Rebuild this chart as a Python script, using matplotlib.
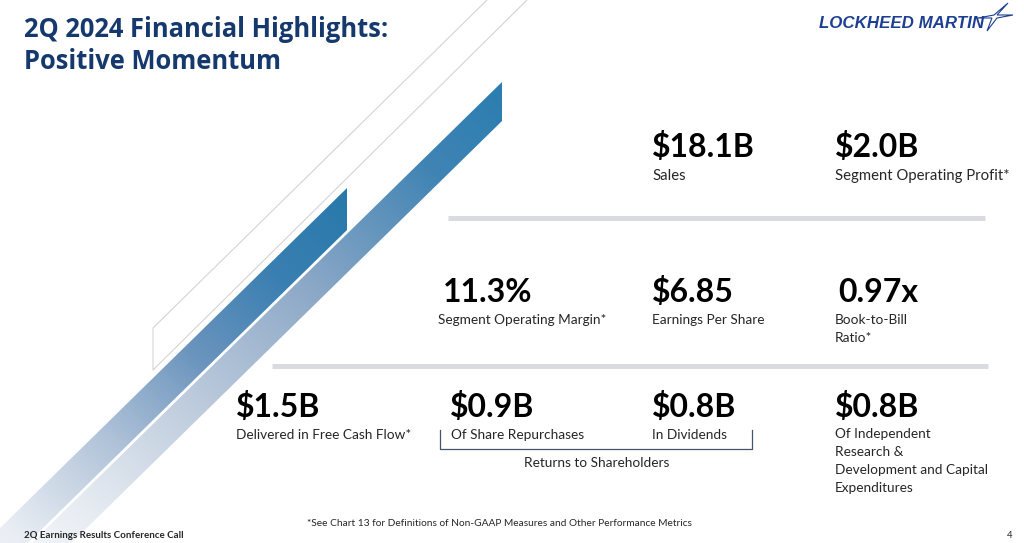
import numpy as np
import matplotlib
matplotlib.use("Agg")
import matplotlib.pyplot as plt
from matplotlib.patches import Polygon

# ---------------- data ----------------
title_lines = ["2Q 2024 Financial Highlights:", "Positive Momentum"]
metric_values = ["$18.1B", "$2.0B", "11.3%", "$6.85", "0.97x",
                 "$1.5B", "$0.9B", "$0.8B", "$0.8B"]
metric_labels = ["Sales", "Segment Operating Profit*", "Segment Operating Margin*",
                 "Earnings Per Share", "Book-to-Bill\nRatio*",
                 "Delivered in Free Cash Flow*", "Of Share Repurchases", "In Dividends",
                 "Of Independent\nResearch &\nDevelopment and Capital\nExpenditures"]
bracket_label = "Returns to Shareholders"
footnote = "*See Chart 13 for Definitions of Non-GAAP Measures and Other Performance Metrics"
footer_left = "2Q Earnings Results Conference Call"
page_number = "4"
logo_text = "LOCKHEED MARTIN"

# ---------------- layout (pixels) ----------------
W, H = 1024, 543
value_pos = [(652, 157), (835, 157), (443, 302), (652, 302), (838, 302),
             (236, 417), (450, 417), (652, 417), (835, 417)]
label_pos = [(652, 180), (835, 180), (438, 324), (652, 324), (835, 324),
             (236, 439), (451, 439), (652, 439), (835, 438)]
label_size = [10.7, 10.7, 9.8, 9.8, 9.8, 9.8, 9.8, 9.8, 9.8]
label_step = 18

fig = plt.figure(figsize=(W / 100, H / 100), dpi=100)
ax = fig.add_axes([0, 0, 1, 1])
ax.set_xlim(0, W)
ax.set_ylim(H, 0)
ax.axis("off")

# ---------------- decorative stripes ----------------
yy, xx = np.mgrid[0:H, 0:W] + 0.5
m = 0.98


def gradient_img(x0, y0, stops):
    s = ((x0 - xx) + (yy - y0) / m) / 2.0
    pos = [p for p, _ in stops]
    img = np.zeros((H, W, 3))
    for c in range(3):
        img[..., c] = np.interp(s, pos, [col[c] / 255 for _, col in stops])
    return img


def stripe(x0, ytop, ybot, stops, z):
    t = 900
    pts = [(x0, ytop), (x0, ybot), (x0 - t, ybot + t * m), (x0 - t, ytop + t * m)]
    poly = Polygon(pts, closed=True, facecolor="none", edgecolor="none", zorder=z)
    ax.add_patch(poly)
    im = ax.imshow(gradient_img(x0, ytop, stops), extent=(0, W, H, 0),
                   origin="upper", aspect="auto", zorder=z, interpolation="bilinear")
    im.set_clip_path(poly)


big_stops = [(0, (42, 125, 176)), (80, (64, 132, 180)), (200, (140, 168, 199)),
             (330, (194, 207, 223)), (430, (232, 237, 243)), (520, (255, 255, 255))]
small_stops = [(0, (40, 121, 171)), (80, (58, 127, 177)), (160, (106, 148, 189)),
               (250, (178, 196, 217)), (340, (232, 237, 243)), (420, (255, 255, 255))]
stripe(502, 82, 121, big_stops, 1)
stripe(347, 188, 230, small_stops, 2)

# thin outline
ax.plot([487, 153, 153, 527], [0, 328, 370, 0], color="#d4d4d4", lw=0.8, zorder=3)

ax.set_xlim(0, W)
ax.set_ylim(H, 0)

# ---------------- title ----------------
navy = "#15396d"
ax.text(24, 37, title_lines[0], fontsize=18.4, fontweight="bold", family="Open Sans",
        color=navy, va="baseline", ha="left", zorder=5)
ax.text(24, 69, title_lines[1], fontsize=18.4, fontweight="bold", family="Open Sans",
        color=navy, va="baseline", ha="left", zorder=5)

# ---------------- logo ----------------
logo_col = "#1d3f93"
ax.text(819, 28, logo_text, fontsize=12.2, fontweight="bold", style="italic",
        family="Liberation Sans", color=logo_col, va="baseline", ha="left", zorder=5)
star = [(1008, 3), (997, 15), (1013, 15), (997, 18), (987, 31), (992, 18),
        (978, 18), (994, 15)]
ax.add_patch(Polygon(star, closed=True, facecolor="white", edgecolor=logo_col,
                     lw=0.8, zorder=5))

# ---------------- separators ----------------
sep_col = "#d9dbe0"
ax.plot([448, 985], [218, 218], color=sep_col, lw=3.6, solid_capstyle="butt", zorder=4)
ax.plot([272, 988], [366, 366], color=sep_col, lw=3.6, solid_capstyle="butt", zorder=4)

# ---------------- metrics ----------------
for v, (x, y) in zip(metric_values, value_pos):
    ax.text(x, y, v, fontsize=23, fontweight="bold", family="Lato", color="black",
            va="baseline", ha="left", zorder=6)
for lab, (x, y), fs in zip(metric_labels, label_pos, label_size):
    for i, line in enumerate(lab.split("\n")):
        ax.text(x, y + i * label_step, line, fontsize=fs, family="Lato",
                color="#262626", va="baseline", ha="left", zorder=6)

# bracket
br_col = "#44546a"
ax.plot([440, 440, 752, 752], [430, 449, 449, 430], color=br_col, lw=0.9, zorder=6)
ax.text(597, 467, bracket_label, fontsize=9.8, family="Lato", color="#262626",
        va="baseline", ha="center", zorder=6)

# ---------------- footer ----------------
ax.text(499, 526, footnote, fontsize=7.3, family="Lato", color="#262626",
        va="baseline", ha="center", zorder=6)
ax.text(24, 538, footer_left, fontsize=7.0, fontweight="bold", family="Lato",
        color="#262626", va="baseline", ha="left", zorder=6)
ax.text(1012, 538, page_number, fontsize=6.8, family="Lato", color="#262626",
        va="baseline", ha="right", zorder=6)

fig.savefig("out.png", dpi=100, facecolor="white")
